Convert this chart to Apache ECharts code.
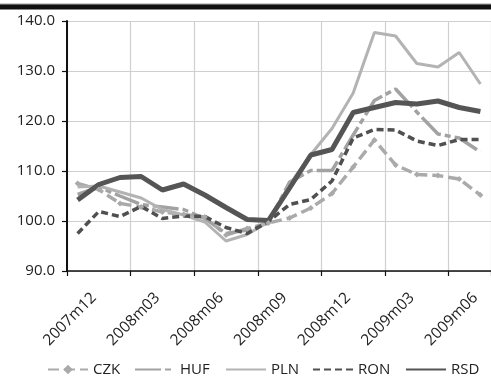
<!DOCTYPE html>
<html>
<head>
<meta charset="utf-8">
<script src="https://cdn.jsdelivr.net/npm/echarts@6/dist/echarts.min.js"></script>
<style>
html,body{margin:0;padding:0;background:#fff;}
#chart{width:491px;height:386px;}
</style>
</head>
<body>
<div id="chart"></div>
<script>
var categories = ['2007m12','2008m01','2008m02','2008m03','2008m04','2008m05','2008m06','2008m07','2008m08','2008m09','2008m10','2008m11','2008m12','2009m01','2009m02','2009m03','2009m04','2009m05','2009m06','2009m07'];
var CZK = [107.5, 106.3, 103.5, 102.8, 101.8, 101.3, 100.8, 97.2, 98.5, 99.6, 100.6, 102.6, 105.5, 110.8, 116.2, 111.2, 109.3, 109.1, 108.4, 105.2];
var HUF = [105.3, 106.8, 105.0, 103.3, 102.8, 102.3, 100.5, 97.5, 98.2, 99.6, 107.8, 110.1, 110.1, 117.2, 124.1, 126.4, 121.8, 117.4, 116.6, 113.8];
var PLN = [106.8, 107.0, 105.8, 104.6, 102.3, 101.2, 99.8, 96.0, 97.3, 99.8, 107.3, 113.3, 118.5, 125.6, 137.7, 137.0, 131.5, 130.8, 133.7, 127.4];
var RON = [97.5, 101.9, 100.9, 102.9, 100.5, 101.0, 100.9, 98.7, 97.5, 99.9, 103.3, 104.3, 108.0, 116.6, 118.3, 118.2, 116.0, 115.1, 116.3, 116.3];
var RSD = [104.2, 107.3, 108.7, 108.9, 106.2, 107.4, 105.2, 102.7, 100.3, 100.1, 106.6, 113.2, 114.3, 121.7, 122.7, 123.7, 123.4, 124.0, 122.7, 121.9];
var yTicks = [90, 100, 110, 120, 130, 140];
var seriesNames = ['CZK','HUF','PLN','RON','RSD'];
var legendLeft = [42, 129, 220, 307, 400];

var FONT = 'Open Sans';
var chart = echarts.init(document.getElementById('chart'), null, {renderer:'canvas'});
function mk(name, data, color, width, type, extra){
  var s = {
    name: name, type: 'line', data: data, symbol: 'none', smooth: false,
    lineStyle: {color: color, width: width, type: type},
    itemStyle: {color: color},
    emphasis: {disabled: true},
    animation: false
  };
  if (extra) for (var k in extra) s[k] = extra[k];
  return s;
}
var legends = seriesNames.map(function(n, i){
  var l = {
    left: legendLeft[i], top: 357, itemWidth: 40, itemHeight: 12, itemGap: 0,
    textStyle: {fontFamily: FONT, fontSize: 15, color: '#222'},
    data: [n], selectedMode: false
  };
  if (n !== 'CZK') l.itemStyle = {opacity: 0};
  return l;
});
chart.setOption({
  animation: false,
  backgroundColor: '#fff',
  graphic: [
    {type:'rect', shape:{x:0,y:3.5,width:491,height:1.2}, style:{fill:'#999'}},
    {type:'rect', shape:{x:0,y:4.6,width:491,height:5}, style:{fill:'#111'}}
  ],
  grid: {left: 67, right: -8, top: 21, bottom: 115, containLabel: false},
  legend: legends,
  xAxis: {
    type: 'category', data: categories, boundaryGap: true,
    axisLine: {lineStyle: {color: '#111', width: 1.5}},
    axisTick: {show: true, interval: 2, length: 5, lineStyle: {color: '#111', width: 1.2}},
    axisLabel: {interval: 2, rotate: 45, margin: 8, padding: [15, 0, 0, 0], verticalAlign: 'top', fontFamily: FONT, fontSize: 15.5, color: '#222'},
    splitLine: {show: true, interval: 2, lineStyle: {color: '#cfcfcf', width: 1.2}}
  },
  yAxis: {
    type: 'value', min: 90, max: 140, interval: 10,
    axisLine: {show: true, lineStyle: {color: '#111', width: 2}},
    axisTick: {show: true, length: 5, lineStyle: {color: '#111', width: 1.2}},
    axisLabel: {margin: 12, fontFamily: FONT, fontSize: 15, color: '#222',
      formatter: function(v){ return yTicks.indexOf(v) >= 0 ? v.toFixed(1) : ''; }},
    splitLine: {show: true, lineStyle: {color: '#cfcfcf', width: 1.2}}
  },
  series: [
    mk('CZK', CZK, '#aaaaaa', 3.5, [11,5], {symbol:'diamond', symbolSize:6, showSymbol:true}),
    mk('HUF', HUF, '#a2a2a2', 3.5, [26,4,6,4]),
    mk('PLN', PLN, '#b3b3b3', 3),
    mk('RON', RON, '#505050', 3.5, [7,4]),
    mk('RSD', RSD, '#555555', 5)
  ]
});
</script>
</body>
</html>
